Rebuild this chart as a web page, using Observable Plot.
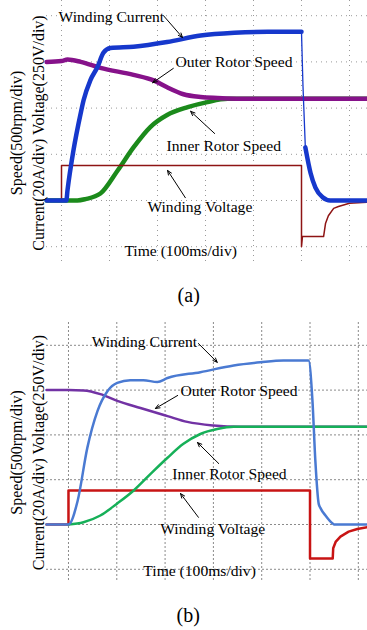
<!DOCTYPE html>
<html>
<head>
<meta charset="utf-8">
<script src="https://cdn.jsdelivr.net/npm/d3@7"></script>
<script src="https://cdn.jsdelivr.net/npm/@observablehq/plot@0.6"></script>
<style>
  html, body { margin: 0; padding: 0; background: #fff; }
  #chart svg { display: block; }
  #chart svg text { font-family: "Liberation Serif", "Times New Roman", "DejaVu Serif", serif !important; }
</style>
</head>
<body>
<div id="chart"></div>
<script>
// ---- Data: time in divisions (100 ms/div), value in divisions ----
// Panel (a): measured
const currentA = [[-0.31,0],[0.1,0],[0.125,0.22],[0.25,1.09],[0.4,1.89],[0.46,2.17],[0.6,2.6],[0.75,2.89],[0.875,3.2],[1.02,3.3],[1.5,3.33],[2.2,3.43],[2.9,3.57],[3.6,3.63],[4.3,3.65],[5.0,3.65],[5.03,2.5],[5.08,1.15],[5.19,0.59],[5.29,0.28],[5.44,0.07],[5.6,0],[6.375,0]];
const outerA = [[-0.31,3.0],[0.0,3.02],[0.125,3.05],[0.4,3.0],[0.81,2.87],[1.5,2.72],[1.92,2.6],[2.2,2.45],[2.54,2.3],[2.9,2.24],[3.25,2.22],[4.0,2.2],[6.375,2.2]];
const innerA = [[-0.31,0],[0.33,0],[0.5,0.03],[0.81,0.15],[1.17,0.65],[1.5,1.15],[1.85,1.59],[2.2,1.85],[2.63,2.02],[3.04,2.13],[3.46,2.2],[6.375,2.2]];
const voltageA = [[-0.31,0],[0,0],[0,0.76],[5.0,0.76],[5.0,-1.0],[5.02,-0.78],[5.46,-0.78],[5.5,-0.5],[5.56,-0.33],[5.67,-0.17],[5.77,-0.13],[6.0,-0.06],[6.375,-0.04]];

// Panel (b): simulated
const currentB = [[-0.455,0],[0,0],[0.19,0.53],[0.39,1.71],[0.6,2.53],[0.81,2.98],[1.01,3.16],[1.28,3.22],[1.55,3.22],[1.84,3.18],[2.05,3.27],[2.73,3.4],[3.42,3.55],[3.97,3.62],[4.45,3.66],[4.97,3.66],[5.05,2.77],[5.11,1.43],[5.18,0.46],[5.22,0.36],[5.32,0.2],[5.47,0.02],[5.5,0],[6.19,0]];
const outerB = [[-0.455,3.0],[0.0,3.0],[0.31,2.99],[0.66,2.91],[1.01,2.76],[1.49,2.6],[2.05,2.42],[2.46,2.29],[3.0,2.21],[3.56,2.18],[6.19,2.18]];
const innerB = [[0,0],[0.31,0.05],[0.66,0.2],[1.01,0.47],[1.35,0.76],[1.7,1.13],[2.05,1.49],[2.38,1.8],[2.73,2.02],[3.08,2.13],[3.42,2.18],[6.19,2.18]];
const voltageB = [[-0.455,0],[0,0],[0,0.76],[5.0,0.76],[5.0,-0.76],[5.47,-0.76],[5.48,-0.53],[5.53,-0.39],[5.63,-0.27],[5.8,-0.16],[5.98,-0.1],[6.19,-0.06]];

// Grid divisions
const xDivs = [0,1,2,3,4,5,6];
const yDivs = [-1,0,1,2,3,4];

// Labels
const seriesNames = ["Winding Current","Outer Rotor Speed","Inner Rotor Speed","Winding Voltage"];
const timeLabel = "Time (100ms/div)";
const yLabel1 = "Speed(500rpm/div)";
const yLabel2 = "Current(20A/div) Voltage(250V/div)";

// ---- Annotation placement (data coords) ----
const labelsA = [
  {text: seriesNames[0], t: -0.06, v: 3.98},
  {text: seriesNames[1], t: 2.375, v: 2.99},
  {text: seriesNames[2], t: 2.19, v: 1.17},
  {text: seriesNames[3], t: 1.79, v: -0.15},
  {text: timeLabel, t: 1.31, v: -1.10}
];
const arrowsA = [
  {t1: 2.125, v1: 4.0, t2: 2.52, v2: 3.53},
  {t1: 2.33, v1: 2.86, t2: 1.9, v2: 2.55},
  {t1: 3.19, v1: 1.45, t2: 2.69, v2: 1.93},
  {t1: 2.58, v1: 0.06, t2: 2.21, v2: 0.65}
];
const labelsB = [
  {text: seriesNames[0], t: 0.48, v: 4.08},
  {text: seriesNames[1], t: 2.32, v: 2.99},
  {text: seriesNames[2], t: 2.15, v: 1.12},
  {text: seriesNames[3], t: 1.9, v: -0.09},
  {text: timeLabel, t: 1.55, v: -1.03}
];
const arrowsB = [
  {t1: 2.69, v1: 4.04, t2: 3.08, v2: 3.62},
  {t1: 2.26, v1: 2.88, t2: 1.8, v2: 2.59},
  {t1: 3.11, v1: 1.36, t2: 2.67, v2: 1.83},
  {t1: 2.69, v1: 0.16, t2: 2.32, v2: 0.69}
];

const FONT = "Liberation Serif";

function panel(opts) {
  const {height, marginTop, marginBottom, xDomain, yDomain, series, labels, arrows, tag, tagPos, grid} = opts;
  const marks = [
    Plot.ruleX(xDivs, {stroke: grid.color, strokeWidth: 1, strokeDasharray: grid.dash}),
    Plot.ruleY(yDivs, {stroke: grid.color, strokeWidth: 1, strokeDasharray: grid.dash})
  ];
  for (const s of series) {
    marks.push(Plot.line(s.data, {x: d => d[0], y: d => d[1], stroke: s.color, strokeWidth: s.width, curve: s.curve || "linear", strokeLinejoin: "round"}));
  }
  marks.push(
    Plot.arrow(arrows, {x1: "t1", y1: "v1", x2: "t2", y2: "v2", stroke: "#000", strokeWidth: 1, headLength: 7, headAngle: 45}),
    Plot.text(labels, {x: "t", y: "v", text: "text", textAnchor: "start", fontSize: 15.6, fontFamily: FONT, fill: "#000"}),
    Plot.text([yLabel1], {frameAnchor: "left", textAnchor: "middle", rotate: -90, dx: -30, fontSize: 16, fontFamily: FONT, fill: "#000"}),
    Plot.text([yLabel2], {frameAnchor: "left", textAnchor: "middle", rotate: -90, dx: -8, fontSize: 16, fontFamily: FONT, fill: "#000"}),
    Plot.text([tag], {x: tagPos.t, y: tagPos.v, fontSize: 20, fontFamily: FONT, fill: "#000"})
  );
  return Plot.plot({
    width: 367,
    height,
    marginLeft: 46,
    marginRight: 0,
    marginTop,
    marginBottom,
    x: {domain: xDomain, axis: null},
    y: {domain: yDomain, axis: null},
    style: {background: "#fff", overflow: "visible"},
    marks
  });
}

// measured current: thick noisy trace, thin fast falling edge
const blueA = "#1638cc";
const svgA = panel({
  height: 300, marginTop: 0, marginBottom: 35,
  xDomain: [-0.3125, 6.375], yDomain: [-1.407, 4.329],
  grid: {color: "#9a9a9a", dash: "1,4"},
  series: [
    {data: innerA, color: "#1b8a1b", width: 4.5, curve: "monotone-x"},
    {data: outerA, color: "#86128a", width: 4.5, curve: "monotone-x"},
    {data: voltageA, color: "#8e1414", width: 1.5},
    {data: currentA.filter(d => d[0] <= 5.0), color: blueA, width: 4.5, curve: "monotone-x"},
    {data: currentA.filter(d => d[0] >= 5.0 && d[0] <= 5.08), color: blueA, width: 1.3},
    {data: currentA.filter(d => d[0] >= 5.08), color: blueA, width: 4.5, curve: "monotone-x"}
  ],
  labels: labelsA, arrows: arrowsA, tag: "(a)", tagPos: {t: 2.65, v: -2.06}
});

const svgB = panel({
  height: 330, marginTop: 22, marginBottom: 48,
  xDomain: [-0.455, 6.19], yDomain: [-1.295, 4.509],
  grid: {color: "#8a8a8a", dash: "2,2"},
  series: [
    {data: voltageB, color: "#c81414", width: 2.5},
    {data: outerB, color: "#7232a4", width: 2.5, curve: "monotone-x"},
    {data: innerB, color: "#16b058", width: 2.5, curve: "monotone-x"},
    {data: currentB, color: "#4a7ad2", width: 2.5, curve: "monotone-x"}
  ],
  labels: labelsB, arrows: arrowsB, tag: "(b)", tagPos: {t: 2.48, v: -2.03}
});

document.getElementById("chart").append(svgA, svgB);
</script>
</body>
</html>
